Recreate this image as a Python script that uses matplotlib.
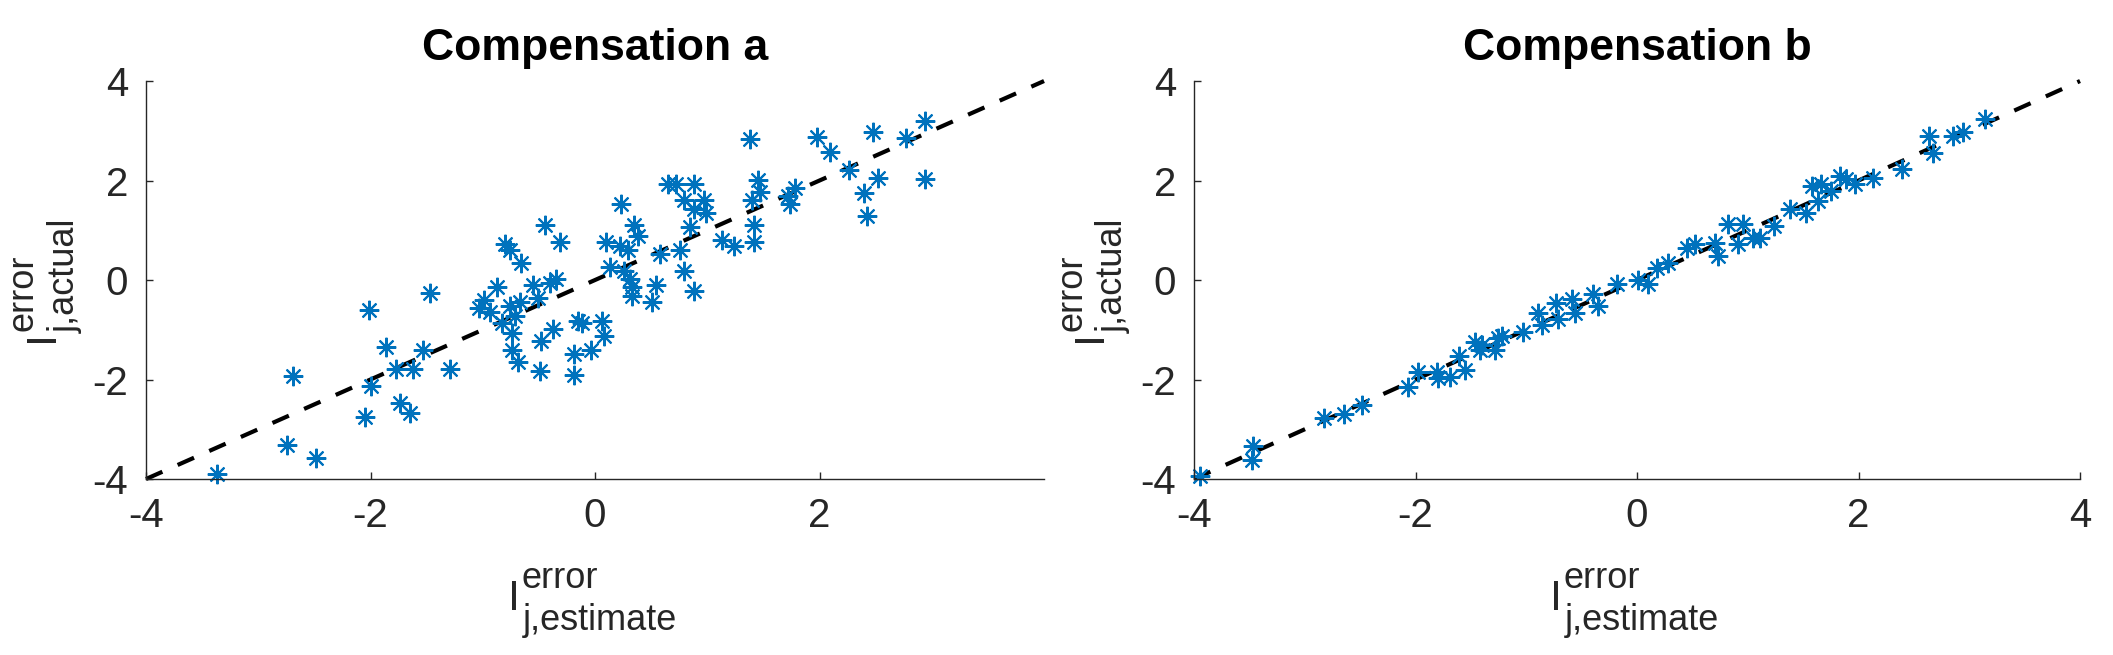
import matplotlib
matplotlib.use("Agg")
import matplotlib.pyplot as plt
import numpy as np

plt.rcParams['font.family'] = ['Liberation Sans', 'DejaVu Sans']
plt.rcParams['axes.unicode_minus'] = False

# compensation a: estimate vs actual
xa = [-3.37, -2.74, -2.49, -2.69, -2.01, -2.05, -2.00, -1.86, -1.77, -1.74,
      -1.65, -1.62, -1.53, -1.47, -1.29, -1.03, -0.99, -0.94, -0.87, -0.80,
      -0.76, -0.66, -0.83, -0.76, -0.71, -0.74, -0.74, -0.69, -0.67, -0.55,
      -0.51, -0.45, -0.31, -0.40, -0.35, -0.48, -0.37, -0.49, -0.19, -0.19,
      -0.15, -0.12, -0.04, 0.06, 0.08, 0.13, 0.10, 0.23, 0.22, 0.29,
      0.26, 0.31, 0.33, 0.33, 0.35, 0.38, 0.51, 0.54, 0.58, 0.65,
      0.72, 0.79, 0.88, 0.76, 0.79, 0.85, 0.88, 0.88, 0.97, 0.99,
      1.13, 1.24, 1.38, 1.42, 1.42, 1.40, 1.45, 1.47, 1.72, 1.74,
      1.78, 1.975, 2.09, 2.26, 2.48, 2.52, 2.40, 2.42, 2.77, 2.94,
      2.94]
ya = [-3.90, -3.32, -3.57, -1.93, -0.61, -2.76, -2.13, -1.34, -1.78, -2.47,
      -2.68, -1.78, -1.40, -0.26, -1.78, -0.57, -0.40, -0.65, -0.15, 0.72,
      0.60, 0.35, -0.86, -0.53, -0.73, -1.07, -1.40, -1.65, -0.44, -0.11,
      -0.36, 1.10, 0.77, -0.07, 0.02, -1.23, -0.98, -1.82, -1.48, -1.90,
      -0.82, -0.86, -1.40, -0.82, -1.13, 0.27, 0.77, 1.52, 0.68, 0.60,
      0.18, 0.02, -0.15, -0.32, 1.10, 0.89, -0.44, -0.11, 0.52, 1.93,
      1.93, 1.60, 1.93, 0.60, 0.18, 1.06, 1.43, -0.23, 1.60, 1.35,
      0.81, 0.68, 2.83, 0.77, 1.10, 1.60, 2.02, 1.77, 1.68, 1.52,
      1.85, 2.88, 2.58, 2.22, 2.98, 2.05, 1.74, 1.29, 2.85, 3.20,
      2.04]

# compensation b: estimate vs actual
xb = [-3.95, -3.47, -3.48, -2.83, -2.65, -2.48, -2.07, -1.98, -1.81, -1.80,
      -1.69, -1.61, -1.55, -1.46, -1.42, -1.28, -1.26, -1.40, -1.22, -1.03,
      -0.89, -0.86, -0.73, -0.71, -0.59, -0.56, -0.40, -0.35, -0.18, 0.01,
      0.10, 0.18, 0.28, 0.45, 0.52, 0.70, 0.73, 0.82, 0.91, 0.96,
      1.05, 1.24, 1.11, 1.38, 1.53, 1.58, 1.63, 1.66, 1.75, 1.83,
      1.89, 1.97, 2.13, 2.39, 2.64, 2.67, 2.85, 2.94, 3.14]
yb = [-3.94, -3.33, -3.62, -2.78, -2.70, -2.52, -2.16, -1.84, -1.84, -1.97,
      -1.94, -1.53, -1.80, -1.25, -1.40, -1.40, -1.16, -1.30, -1.13, -1.05,
      -0.66, -0.90, -0.46, -0.79, -0.39, -0.66, -0.29, -0.53, -0.09, 0.01,
      -0.09, 0.25, 0.35, 0.65, 0.72, 0.75, 0.48, 1.12, 0.72, 1.12,
      0.85, 1.08, 0.85, 1.42, 1.35, 1.89, 1.59, 1.93, 1.78, 2.09,
      2.03, 1.93, 2.06, 2.23, 2.90, 2.56, 2.90, 2.97, 3.24]

ref_line = [-4, 4]
blue = '#0072BD'
grey = '#262626'


def put(ax, s, xy, off, size, rot=0):
    # one piece of a label, placed in points from an axes anchor
    ax.annotate(s, xy=xy, xycoords='axes fraction', xytext=off,
                textcoords='offset points', fontsize=size, color=grey,
                ha='left', va='baseline', rotation=rot,
                rotation_mode='anchor', annotation_clip=False)


def xlabel_parts(ax):
    put(ax, 'I', (0.5, 0), (-62.6, -94.3), 31)
    put(ax, 'error', (0.5, 0), (-52.9, -78.5), 26)
    put(ax, 'j,estimate', (0.5, 0), (-51.8, -108.7), 26)


def ylabel_parts(ax):
    put(ax, 'I', (0, 0.5), (-67.0, -44.6), 31, rot=90)
    put(ax, 'error', (0, 0.5), (-81.4, -37.0), 26, rot=90)
    put(ax, 'j,actual', (0, 0.5), (-51.1, -38.2), 26, rot=90)


fig = plt.figure(figsize=(21.13, 6.55), dpi=100)
ax1 = fig.add_axes([0.0691, 0.2687, 0.425, 0.6076])
ax2 = fig.add_axes([0.5651, 0.2687, 0.4193, 0.6076])

panels = [(ax1, xa, ya, 'Compensation a', [-4, -2, 0, 2]),
          (ax2, xb, yb, 'Compensation b', [-4, -2, 0, 2, 4])]

for ax, x, y, title, xt in panels:
    ax.plot(ref_line, ref_line, color='black', lw=3.0, ls=(0, (4.3, 4.0)),
            zorder=1, clip_on=False)
    ax.plot(x, y, ls='none', marker=(8, 2, 0), ms=14, mew=1.5, color=blue,
            zorder=2, clip_on=False)
    ax.set_xlim(-4, 4)
    ax.set_ylim(-4, 4)
    ax.set_xticks(xt)
    ax.set_yticks([-4, -2, 0, 2, 4])
    ax.spines['top'].set_visible(False)
    ax.spines['right'].set_visible(False)
    for s in ['left', 'bottom']:
        ax.spines[s].set_color(grey)
        ax.spines[s].set_linewidth(1.0)
    ax.tick_params(direction='in', length=5, width=1.0, colors=grey,
                   labelsize=29, pad=13)
    ax.set_title(title, fontsize=32, fontweight='bold', pad=15)
    xlabel_parts(ax)
    ylabel_parts(ax)

fig.savefig('out.png', dpi=100, facecolor='white')
